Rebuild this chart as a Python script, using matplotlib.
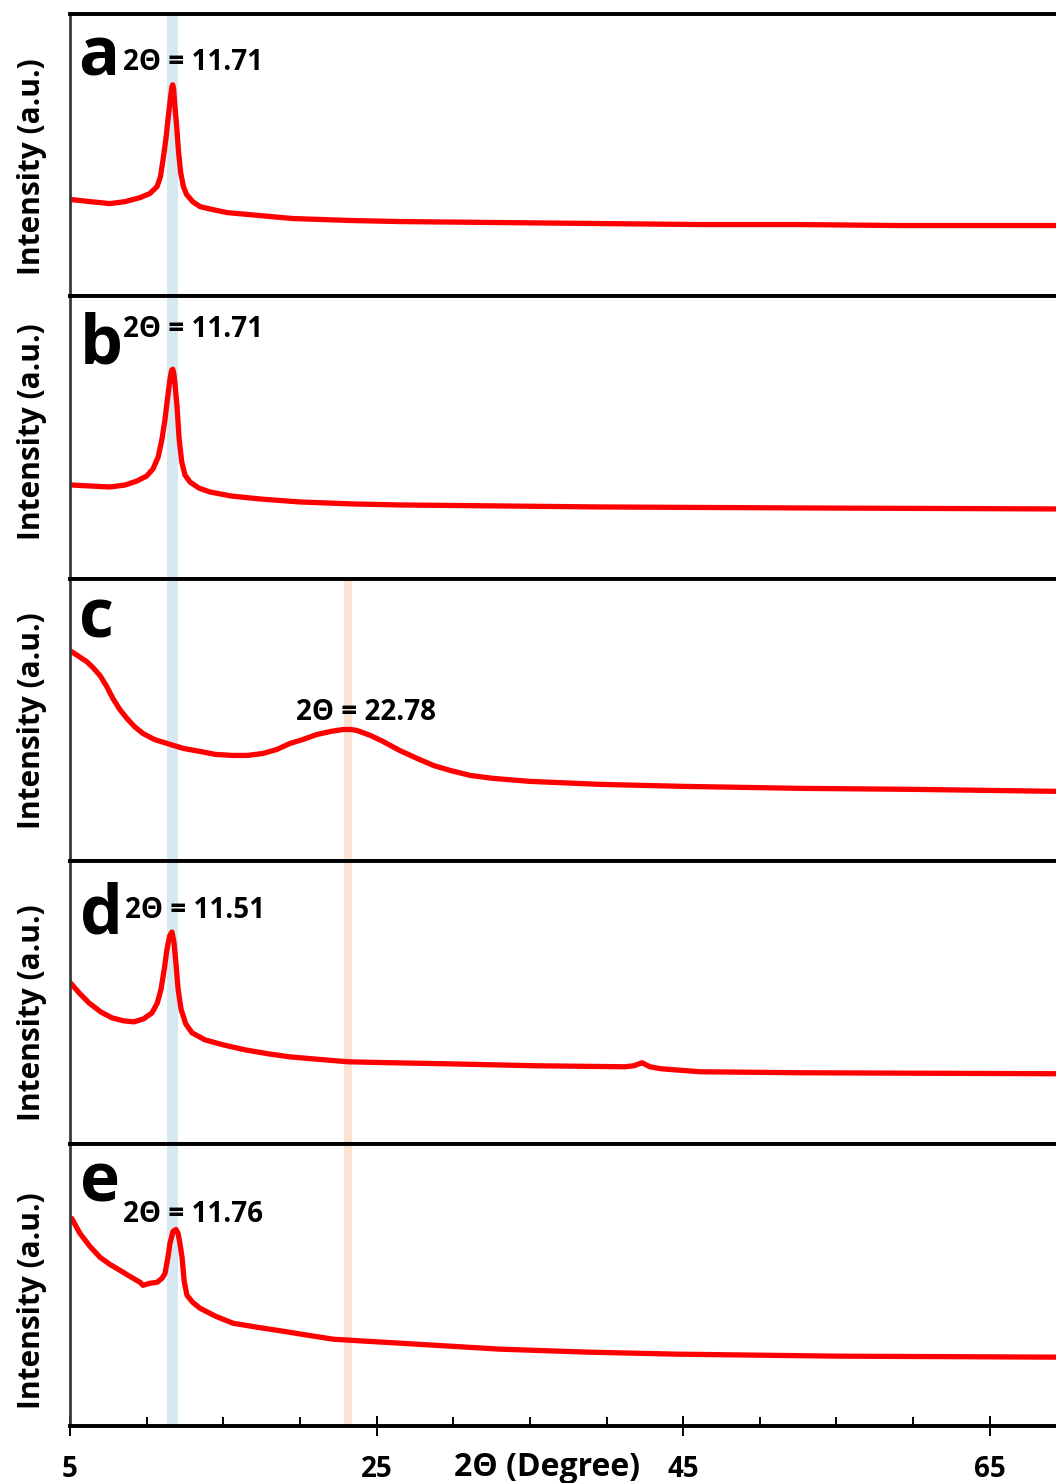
import matplotlib.pyplot as plt

plt.rcParams['font.family'] = ['Open Sans', 'DejaVu Sans']
plt.rcParams['font.weight'] = 'bold'

# XRD patterns (2theta in degrees, intensity in a.u.)
two_theta_a = [5.11, 6.30, 7.61, 8.60, 9.57, 10.20, 10.68, 10.90, 11.07, 11.25, 11.39,
               11.56, 11.65, 11.70, 11.76, 11.82, 11.96, 12.08, 12.22, 12.40, 12.61,
               13.00, 13.48, 14.30, 15.24, 17.39, 19.55, 23.46, 26.53, 33.05, 39.57,
               46.10, 52.62, 59.14, 69.32]
intensity_a = [97, 95, 93, 95, 99, 103, 110, 120, 137, 157, 177,
               200, 210, 212, 208, 195, 170, 145, 124, 110, 102,
               95, 90, 87, 84, 81, 78, 76, 75, 74, 73,
               72, 72, 71, 71]

two_theta_b = [5.11, 6.30, 7.61, 8.60, 9.37, 10.00, 10.41, 10.75, 11.00, 11.20, 11.33,
               11.52, 11.63, 11.70, 11.77, 11.85, 11.98, 12.12, 12.29, 12.50, 12.83,
               13.40, 14.13, 15.50, 17.39, 20.00, 23.46, 26.53, 39.57, 52.62, 69.32]
intensity_b = [94, 93, 92, 94, 98, 103, 110, 122, 140, 160, 177,
               200, 209, 210, 206, 195, 173, 140, 117, 104, 97,
               91, 87, 83, 80, 77, 75, 74, 72, 71, 70]

two_theta_c = [5.11, 5.50, 6.09, 6.50, 6.96, 7.40, 7.80, 8.25, 8.72, 9.20, 9.76,
               10.50, 11.33, 12.40, 13.48, 14.50, 15.63, 16.60, 17.59, 18.50, 19.35,
               20.20, 21.11, 22.00, 22.81, 23.30, 23.72, 24.60, 25.42, 26.50, 27.64,
               28.70, 29.79, 31.10, 32.59, 35.00, 39.57, 45.00, 52.62, 60.00, 69.32]
intensity_c = [210, 206, 200, 194, 186, 175, 163, 152, 143, 135, 128,
               122, 118, 113, 110, 107, 106, 106, 108, 112, 118,
               122, 127, 130, 132, 132, 131, 126, 120, 111, 103,
               96, 91, 86, 83, 80, 77, 75, 73, 72, 70]

two_theta_d = [5.03, 5.60, 6.24, 7.00, 7.74, 8.50, 9.17, 9.80, 10.35, 10.70, 10.94,
               11.15, 11.33, 11.50, 11.65, 11.78, 11.91, 12.05, 12.24, 12.55, 12.96,
               13.80, 14.98, 16.40, 17.92, 19.30, 20.79, 23.13, 26.00, 29.53, 35.40,
               41.20, 41.79, 42.31, 42.83, 43.55, 46.10, 52.62, 69.32]
intensity_d = [161, 151, 141, 132, 126, 123, 122, 125, 131, 141, 155,
               175, 195, 208, 212, 202, 181, 155, 135, 120, 111,
               104, 99, 94, 90, 87, 85, 82, 81, 80, 78,
               77, 78, 81, 77, 75, 72, 71, 70]

two_theta_e = [5.11, 5.65, 6.30, 6.96, 7.60, 8.26, 8.90, 9.57, 9.76, 10.20, 10.68,
               11.00, 11.20, 11.40, 11.52, 11.72, 11.91, 12.05, 12.15, 12.31, 12.45,
               12.63, 13.00, 13.48, 14.50, 15.63, 17.20, 18.89, 20.50, 22.16, 24.30,
               26.53, 29.80, 33.05, 38.80, 44.60, 55.00, 69.32]
intensity_e = [208, 193, 180, 169, 162, 156, 150, 144, 141, 143, 144,
               148, 153, 170, 183, 195, 197, 193, 185, 169, 145,
               131, 124, 118, 110, 103, 99, 95, 91, 87, 85,
               83, 80, 77, 74, 72, 70, 69]

panel_letters = ['a', 'b', 'c', 'd', 'e']
peak_labels = ['2Θ = 11.71', '2Θ = 11.71', '2Θ = 22.78', '2Θ = 11.51', '2Θ = 11.76']
xticks_major = [5, 25, 45, 65]
xticks_minor = [10, 15, 20, 30, 35, 40, 50, 55, 60]

W, H = 1056, 1483


def fx(px):
    return px / W


def fy(py):
    return 1 - py / H


fig = plt.figure(figsize=(W / 100, H / 100), dpi=100)
axes = fig.subplots(5, 1, sharex=True, gridspec_kw=dict(hspace=0))
fig.subplots_adjust(left=fx(70), right=1.0, top=fy(14), bottom=fy(1426))

series = [(two_theta_a, intensity_a), (two_theta_b, intensity_b), (two_theta_c, intensity_c),
          (two_theta_d, intensity_d), (two_theta_e, intensity_e)]

for i, (ax, (x, y)) in enumerate(zip(axes, series)):
    ax.axvspan(11.35, 12.07, color='#d6e9f1', zorder=0, lw=0)
    if i >= 2:
        ax.axvspan(22.87, 23.37, color='#fbe3d3', zorder=0, lw=0)
    ax.plot(x, y, color='#ff0000', lw=3.8, solid_capstyle='round',
            solid_joinstyle='round', zorder=2)
    ax.set_xlim(5, 69.32)
    ax.set_ylim(0, 283)
    ax.set_yticks([])
    ax.spines['right'].set_visible(False)
    for s in ['top', 'bottom']:
        ax.spines[s].set_linewidth(2.8)
        ax.spines[s].set_color('black')
        ax.spines[s].set_zorder(5)
    ax.spines['left'].set_linewidth(2.0)
    ax.spines['left'].set_color('#3a3a3a')
    if i < 4:
        ax.tick_params(axis='x', which='both', bottom=False, labelbottom=False)

ax = axes[-1]
ax.set_xticks(xticks_major)
ax.set_xticks(xticks_minor, minor=True)
ax.set_xticklabels([str(t) for t in xticks_major])
ax.tick_params(axis='x', which='major', direction='inout', length=14, width=1.4,
               pad=14, labelsize=20)
ax.tick_params(axis='x', which='minor', direction='in', length=6.5, width=1.4)

fig.text(fx(547), fy(1476), '2Θ (Degree)', ha='center', va='baseline', fontsize=23,
         fontweight='bold')

# panel letters, peak labels and y labels (pixel positions from the figure)
letter_pos = [(78, 75), (80, 363), (79, 638), (80, 933), (80, 1202)]
label_pos = [(123, 70), (123, 337), (296, 720), (125, 918), (123, 1222)]
ylabel_centers = [167, 432, 721, 1013, 1301]

for i in range(5):
    lx, ly = letter_pos[i]
    fig.text(fx(lx), fy(ly), panel_letters[i], ha='left', va='baseline', fontsize=49,
             fontweight='bold')
    tx, ty = label_pos[i]
    fig.text(fx(tx), fy(ty), peak_labels[i], ha='left', va='baseline', fontsize=20,
             fontweight='bold')
    fig.text(fx(32), fy(ylabel_centers[i]), 'Intensity (a.u.)', rotation=90, ha='center',
             va='center', fontsize=21.5, fontweight='bold')

fig.savefig('out.png', dpi=100)
